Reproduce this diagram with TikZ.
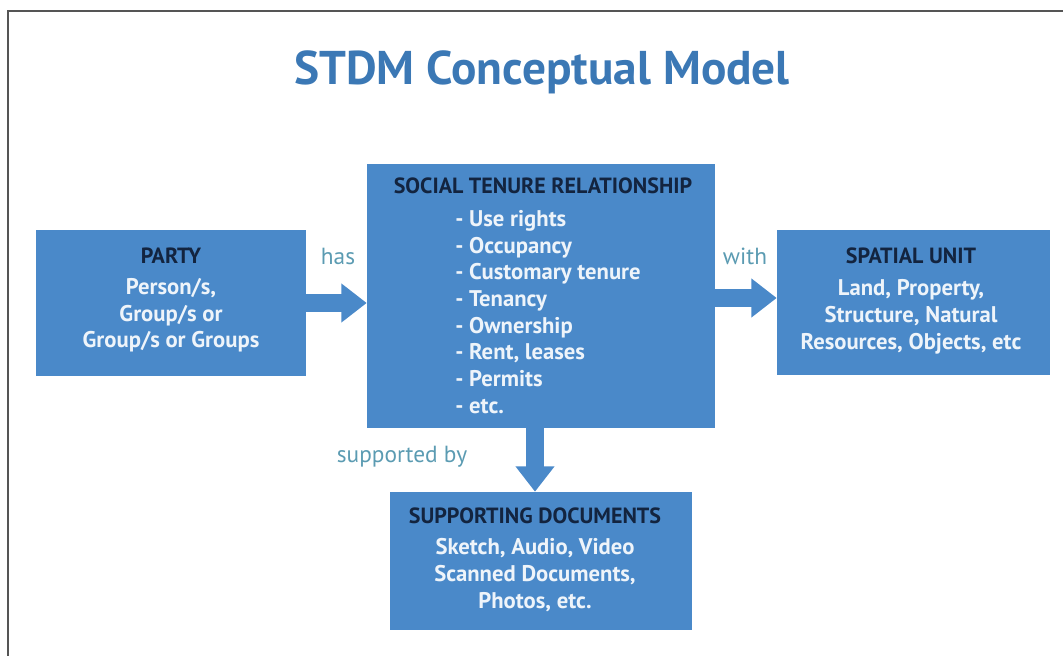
\documentclass[tikz,border=0pt]{standalone}
\usepackage{fontspec}
\setmainfont{PT Sans}
\usetikzlibrary{arrows.meta,positioning}
\definecolor{boxblue}{HTML}{4A89C9}
\definecolor{titleblue}{HTML}{3B78B5}
\definecolor{headnavy}{HTML}{13243F}
\definecolor{bodywhite}{HTML}{EEF4FA}
\definecolor{labelteal}{HTML}{5B9BB2}
\definecolor{framegray}{HTML}{555555}
\tikzset{
	box/.style={fill=boxblue, draw=none, inner sep=0pt},
	headtext/.style={text=headnavy, font=\bfseries\fontsize{16.5}{19}\selectfont, inner sep=0pt},
	bodytext/.style={text=bodywhite, font=\bfseries\fontsize{17}{20}\selectfont, inner sep=0pt},
	reltext/.style={text=labelteal, font=\fontsize{17.5}{20}\selectfont, inner sep=0pt},
	blockarrow/.style={draw=boxblue, line width=13.5pt, -{Triangle[length=19pt,width=28pt]}}
}

\begin{document}
\begin{tikzpicture}[x=0.75pt,y=-0.75pt]
        \useasboundingbox (0,0) rectangle (1063,656);
        \coordinate (frame_bl) at (8,656);
        \coordinate (frame_tl) at (8,11);
        \coordinate (frame_tr) at (1063,11);
        \draw[framegray, line width=1.5pt] (frame_bl) -- (frame_tl) -- (frame_tr);
        \node[text=titleblue, font=\bfseries\fontsize{35.5}{42}\selectfont, inner sep=0pt] (title) at (542,72) {STDM Conceptual Model};
        \node[box, minimum width=202.5pt, minimum height=109.5pt] (party) at (171,303) {};
        \node[box, minimum width=261pt, minimum height=198pt] (str) at (541,296) {};
        \node[box, minimum width=204.75pt, minimum height=108.75pt] (spatial) at (913.5,302.5) {};
        \node[box, minimum width=226.5pt, minimum height=103.5pt] (docs) at (541,561) {};
        \node[headtext, anchor=base] (party_head) at (171,263) {PARTY};
        \node[bodytext, align=center, below=11pt of party_head] (party_body) {Person/s,\\Group/s or\\Group/s or Groups};
        \node[headtext, anchor=base] (str_head) at (543,193) {SOCIAL TENURE RELATIONSHIP};
        \node[bodytext, align=left, anchor=north west] (str_body) at (455,210) {- Use rights\\- Occupancy\\- Customary tenure\\- Tenancy\\- Ownership\\- Rent, leases\\- Permits\\- etc.};
        \node[headtext, anchor=base] (spatial_head) at (911,263) {SPATIAL UNIT};
        \node[bodytext, align=center, below=12pt of spatial_head] (spatial_body) {Land, Property,\\Structure, Natural\\Resources, Objects, etc};
        \node[headtext, anchor=base] (docs_head) at (535,523) {SUPPORTING DOCUMENTS};
        \node[bodytext, align=center, below=11pt of docs_head] (docs_body) {Sketch, Audio, Video\\Scanned Documents,\\Photos, etc.};
        \draw[blockarrow] (party.east |- 0,303) -- (str.west |- 0,303);
        \draw[blockarrow] (str.east |- 0,298) -- (spatial.west |- 0,298);
        \draw[blockarrow] (535,0 |- str.south) -- (535,0 |- docs.north);
        \node[reltext] (has_label) at (338,256) {has};
        \node[reltext] (with_label) at (745,256) {with};
        \node[reltext] (supported_label) at (402,457) {supported by};
\end{tikzpicture}
\end{document}
